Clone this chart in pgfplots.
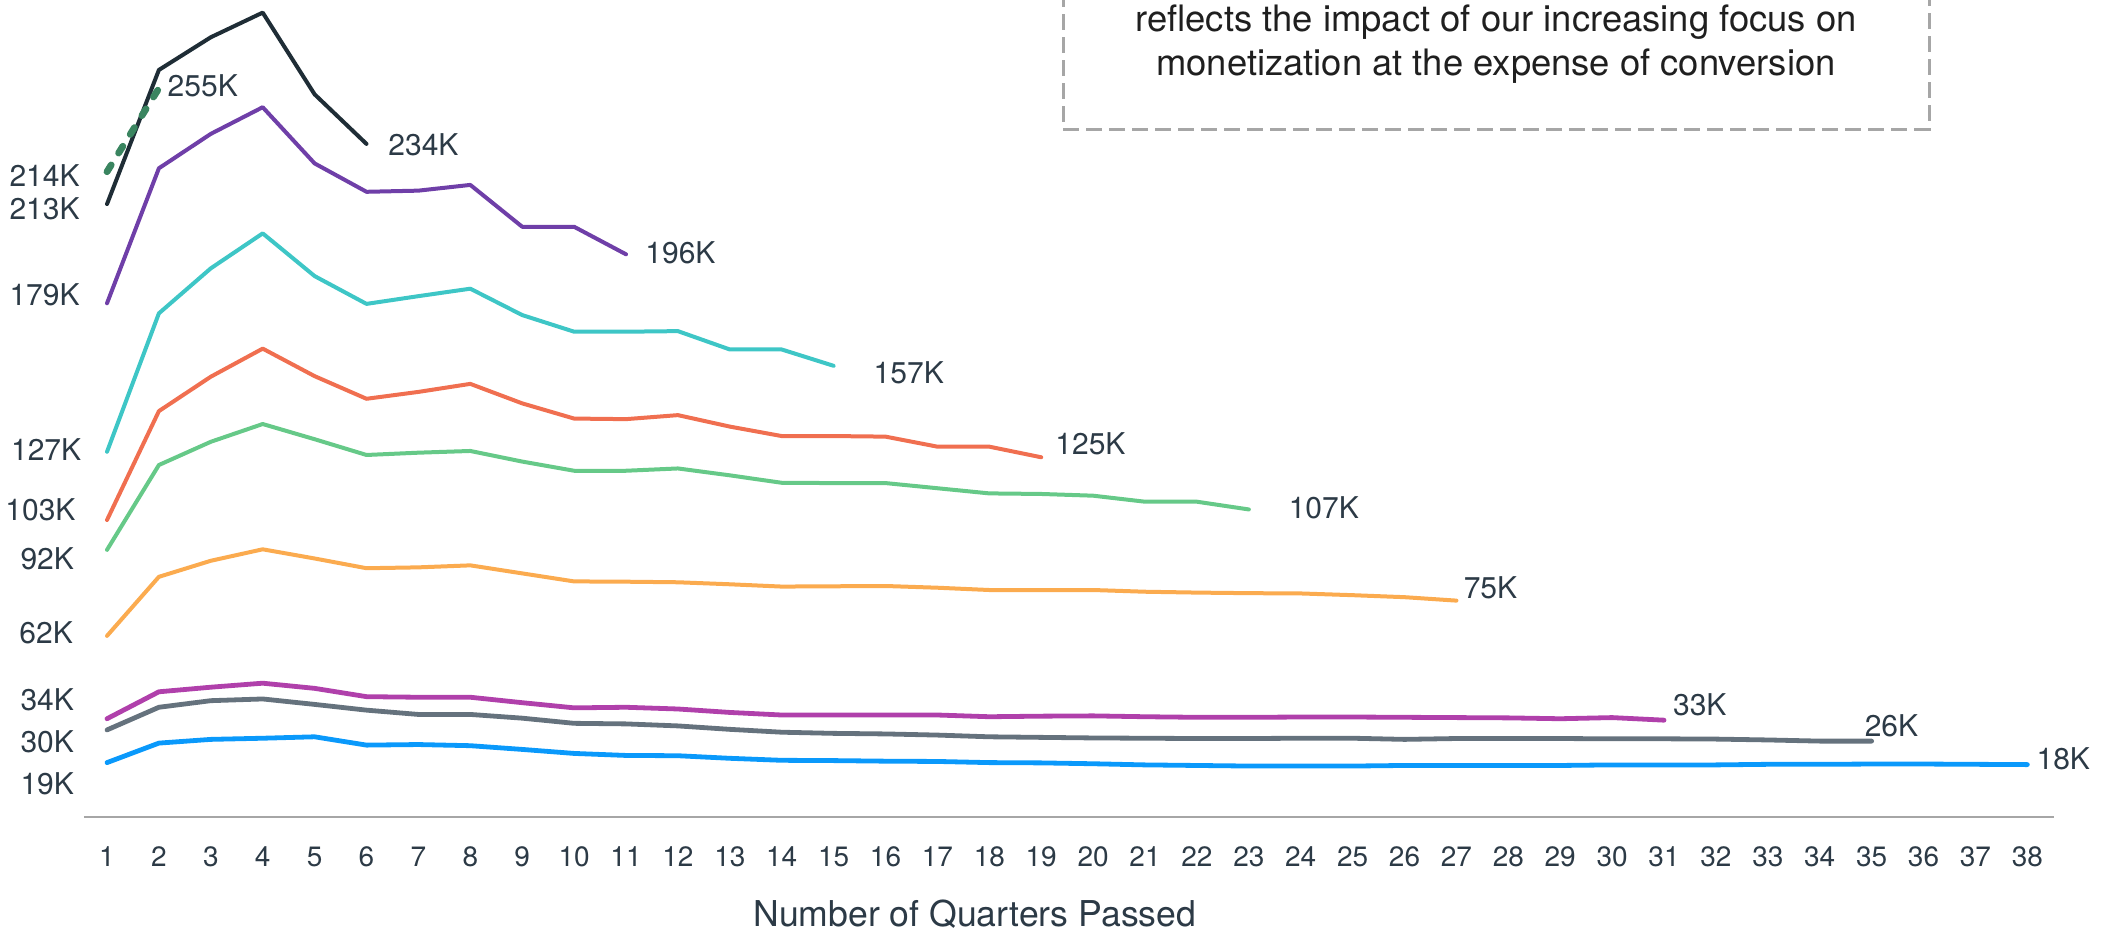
\documentclass[border=0pt]{standalone}
\usepackage{pgfplots}
\pgfplotsset{compat=1.18}
\usepackage{fontspec}
\setmainfont{TeX Gyre Heros}
\definecolor{txt}{HTML}{2C3A46}
\definecolor{cBlack}{HTML}{1F2D36}
\definecolor{cDash}{HTML}{3A8560}
\definecolor{cPurple}{HTML}{6F3FA8}
\definecolor{cCyan}{HTML}{3EC6C6}
\definecolor{cRed}{HTML}{F06F50}
\definecolor{cGreen}{HTML}{66C988}
\definecolor{cOrange}{HTML}{FBAB4F}
\definecolor{cMag}{HTML}{B040AB}
\definecolor{cGray}{HTML}{65727D}
\definecolor{cBlue}{HTML}{0A99FB}
\definecolor{axgray}{HTML}{A6A6A6}
\tikzset{lbl/.style={text=txt, inner sep=0pt, font=\fontsize{15}{18}\selectfont},
  ln/.style={line width=2pt, line join=round, line cap=round, solid},
  lnb/.style={line width=2.4pt, line join=round, line cap=round, solid},
  lnd/.style={line width=3.4pt, line cap=round, dash pattern=on 4pt off 7pt}}
\begin{document}
\begin{tikzpicture}
\useasboundingbox (-42pt,-57.75pt) rectangle (1019.5pt,408.25pt);
\clip (-42pt,-57.75pt) rectangle (1019.5pt,408.25pt);
\begin{axis}[
  scale only axis, width=985pt, height=408.25pt,
  xmin=0.5568, xmax=38.514, ymin=0, ymax=284.8,
  axis x line=bottom, axis y line=none,
  x axis line style={-, draw=axgray, line width=1pt},
  xtick={1,...,38}, major tick length=0pt,
  /pgf/number format/assume math mode=true,
  xticklabel style={anchor=base, yshift=-25.1pt, text=txt, font=\fontsize{14}{16}\selectfont},
  clip=false,
]
% series
\addplot[cBlack, ln, mark=none] coordinates {(1,213.6)(2,260.4)(3,271.8)(4,280.4)(5,251.9)(6,234.6)};
\addplot[cDash, lnd, mark=none] coordinates {(1,224.9)(2,254.0)};
\addplot[cPurple, ln, mark=none] coordinates {(1,179.0)(2,226.1)(3,238.1)(4,247.4)(5,227.8)(6,217.9)(7,218.3)(8,220.3)(9,205.7)(10,205.7)(11,196.1)};
\addplot[cCyan, ln, mark=none] coordinates {(1,127.2)(2,175.5)(3,191.2)(4,203.4)(5,188.5)(6,178.8)(7,181.5)(8,184.1)(9,174.9)(10,169.1)(11,169.1)(12,169.3)(13,162.9)(14,162.9)(15,157.2)};
\addplot[cRed, ln, mark=none] coordinates {(1,103.4)(2,141.4)(3,153.4)(4,163.2)(5,153.6)(6,145.7)(7,148.1)(8,150.9)(9,144.1)(10,138.8)(11,138.6)(12,140.0)(13,136.0)(14,132.7)(15,132.7)(16,132.5)(17,129.0)(18,129.0)(19,125.3)};
\addplot[cGreen, ln, mark=none] coordinates {(1,93.0)(2,122.6)(3,130.7)(4,136.9)(5,131.6)(6,126.1)(7,126.9)(8,127.5)(9,123.8)(10,120.6)(11,120.6)(12,121.4)(13,119.0)(14,116.4)(15,116.3)(16,116.3)(17,114.5)(18,112.7)(19,112.5)(20,111.9)(21,109.8)(22,109.8)(23,107.1)};
\addplot[cOrange, ln, mark=none] coordinates {(1,63.0)(2,83.6)(3,89.2)(4,93.2)(5,90.0)(6,86.6)(7,86.9)(8,87.6)(9,84.8)(10,82.0)(11,81.9)(12,81.7)(13,81.0)(14,80.2)(15,80.3)(16,80.4)(17,79.8)(18,79.0)(19,79.0)(20,79.0)(21,78.4)(22,78.1)(23,77.9)(24,77.8)(25,77.2)(26,76.5)(27,75.3)};
\addplot[cMag, lnb, mark=none] coordinates {(1,34.1)(2,43.5)(3,45.1)(4,46.5)(5,44.7)(6,41.8)(7,41.6)(8,41.6)(9,39.7)(10,37.9)(11,38.1)(12,37.5)(13,36.3)(14,35.4)(15,35.4)(16,35.4)(17,35.4)(18,34.8)(19,35.0)(20,35.1)(21,34.8)(22,34.6)(23,34.6)(24,34.7)(25,34.7)(26,34.6)(27,34.5)(28,34.4)(29,34.1)(30,34.5)(31,33.6)};
\addplot[cGray, lnb, mark=none] coordinates {(1,30.2)(2,38.1)(3,40.4)(4,41.0)(5,39.1)(6,37.1)(7,35.6)(8,35.6)(9,34.3)(10,32.5)(11,32.3)(12,31.6)(13,30.4)(14,29.4)(15,29.0)(16,28.8)(17,28.4)(18,27.8)(19,27.6)(20,27.4)(21,27.3)(22,27.2)(23,27.2)(24,27.3)(25,27.3)(26,26.9)(27,27.2)(28,27.2)(29,27.2)(30,27.1)(31,27.1)(32,27.0)(33,26.7)(34,26.3)(35,26.3)};
\addplot[cBlue, lnb, mark=none] coordinates {(1,18.8)(2,25.6)(3,26.9)(4,27.3)(5,27.8)(6,24.9)(7,25.1)(8,24.7)(9,23.4)(10,22.0)(11,21.3)(12,21.2)(13,20.3)(14,19.6)(15,19.5)(16,19.3)(17,19.2)(18,18.8)(19,18.7)(20,18.4)(21,18.0)(22,17.8)(23,17.6)(24,17.6)(25,17.6)(26,17.8)(27,17.8)(28,17.8)(29,17.8)(30,18.0)(31,18.0)(32,18.0)(33,18.2)(34,18.2)(35,18.3)(36,18.3)(37,18.2)(38,18.1)};
% start labels
\node[lbl, anchor=base east] at (axis cs:0.48,219.7) {214K};
\node[lbl, anchor=base east] at (axis cs:0.48,208.4) {213K};
\node[lbl, anchor=base east] at (axis cs:0.48,178.4) {179K};
\node[lbl, anchor=base east] at (axis cs:0.51,124.3) {127K};
\node[lbl, anchor=base east] at (axis cs:0.40,103.4) {103K};
\node[lbl, anchor=base east] at (axis cs:0.37,86.2) {92K};
\node[lbl, anchor=base east] at (axis cs:0.35,60.4) {62K};
\node[lbl, anchor=base east] at (axis cs:0.37,37.1) {34K};
\node[lbl, anchor=base east] at (axis cs:0.37,22.3) {30K};
\node[lbl, anchor=base east] at (axis cs:0.37,7.8) {19K};
% end labels
\node[lbl, anchor=base west] at (axis cs:2.162,251.1) {255K};
\node[lbl, anchor=base west] at (axis cs:6.414,230.7) {234K};
\node[lbl, anchor=base west] at (axis cs:11.366,193.0) {196K};
\node[lbl, anchor=base west] at (axis cs:15.765,151.1) {157K};
\node[lbl, anchor=base west] at (axis cs:19.266,126.1) {125K};
\node[lbl, anchor=base west] at (axis cs:23.762,104.0) {107K};
\node[lbl, anchor=base west] at (axis cs:27.134,76.1) {75K};
\node[lbl, anchor=base west] at (axis cs:31.167,35.4) {33K};
\node[lbl, anchor=base west] at (axis cs:34.86,27.8) {26K};
\node[lbl, anchor=base west] at (axis cs:38.17,16.5) {18K};
% x label
\node[text=txt, inner sep=0pt, anchor=base, font=\fontsize{17.8}{20}\selectfont] at (axis cs:17.72,-38.4) {Number of Quarters Passed};
% annotation box
\draw[axgray, line width=1.5pt, dash pattern=on 8pt off 3.5pt] (axis cs:19.42,320) -- (axis cs:19.42,239.8) -- (axis cs:36.106,239.8) -- (axis cs:36.106,320);
\node[text=black!88, inner sep=0pt, anchor=base, font=\fontsize{18.2}{20}\selectfont] at (axis cs:27.763,273.7) {reflects the impact of our increasing focus on};
\node[text=black!88, inner sep=0pt, anchor=base, font=\fontsize{18.2}{20}\selectfont] at (axis cs:27.763,258.6) {monetization at the expense of conversion};
\end{axis}
\end{tikzpicture}
\end{document}
